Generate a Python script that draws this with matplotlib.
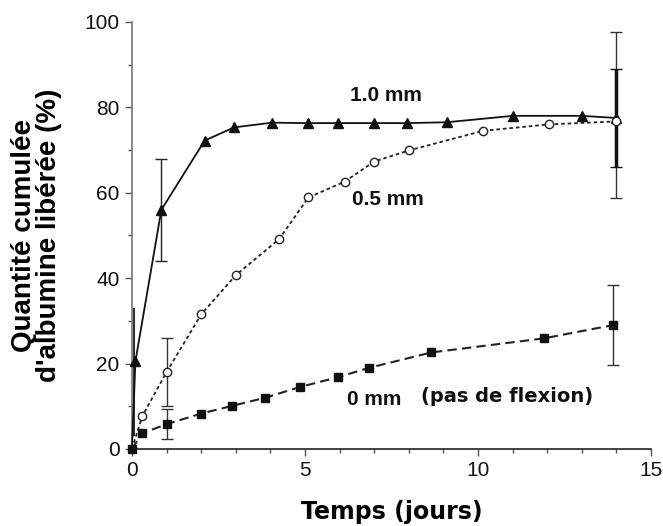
import matplotlib
matplotlib.use('Agg')
import matplotlib.pyplot as plt
from matplotlib.ticker import MultipleLocator

# 1.0 mm (triangles, solid line)
t_10 = [0, 0.1, 0.85, 2.1, 2.95, 4.05, 5.1, 5.95, 7.0, 7.95, 9.1, 11.0, 13.0, 14.0]
y_10 = [0, 20.5, 56, 72.2, 75.3, 76.4, 76.3, 76.3, 76.3, 76.3, 76.5, 78.0, 78.0, 77.5]
e_10_t = [0.05, 0.85, 14.0]
e_10_y = [18, 56, 77.5]
e_10 = [15, 12, 11.5]

# 0.5 mm (open circles, dotted line)
t_05 = [0, 0.3, 1.0, 2.0, 3.0, 4.25, 5.1, 6.15, 7.0, 8.0, 10.15, 12.05, 14.0]
y_05 = [0, 7.7, 18, 31.5, 40.7, 49.1, 58.9, 62.6, 67.3, 69.9, 74.5, 76.0, 76.7]
e_05_t = [1.0, 14.0]
e_05_y = [18, 78.2]
e_05 = [8, 19.5]

# 0 mm (filled squares, dashed line)
t_00 = [0, 0.3, 1.0, 2.0, 2.9, 3.85, 4.85, 5.95, 6.85, 8.65, 11.9, 13.9]
y_00 = [0, 3.7, 5.8, 8.3, 10.1, 12.0, 14.5, 16.8, 19.0, 22.6, 25.9, 29.0]
e_00_t = [1.0, 13.9]
e_00_y = [5.8, 29.0]
e_00 = [3.5, 9.4]

fig = plt.figure(figsize=(6.63, 5.26), dpi=100)
ax = fig.add_axes([0.199, 0.1464, 0.783, 0.812])

ax.plot(t_10, y_10, '-', color='#111', lw=1.3, marker='^', ms=6.5, mfc='#111', mec='#111',
        markevery=list(range(1, len(t_10))), clip_on=False, zorder=4)
ax.plot(t_05, y_05, '--', color='#222', lw=1.3, dashes=(2, 1.6), marker='o', ms=6, mfc='white',
        mec='#222', markevery=list(range(1, len(t_05))), clip_on=False, zorder=4)
ax.plot(t_00, y_00, '--', color='#222', lw=1.5, dashes=(4.5, 2.5), marker='s', ms=6,
        mfc='#111', mec='#111', clip_on=False, zorder=5)

# error bars
ax.errorbar(e_10_t[:1], e_10_y[:1], yerr=e_10[:1], fmt='none', ecolor='#333', elinewidth=1.5,
            capsize=0, clip_on=False, zorder=3)
ax.errorbar(e_10_t[1:2], e_10_y[1:2], yerr=e_10[1:2], fmt='none', ecolor='#222', elinewidth=1,
            capsize=4, capthick=1, clip_on=False, zorder=3)
ax.errorbar(e_10_t[2:], e_10_y[2:], yerr=e_10[2:], fmt='none', ecolor='#111', elinewidth=2.5,
            capsize=4, capthick=1, clip_on=False, zorder=3)
ax.errorbar(e_05_t, e_05_y, yerr=e_05, fmt='none', ecolor='#333', elinewidth=1,
            capsize=4, capthick=1, clip_on=False, zorder=2)
ax.errorbar(e_00_t, e_00_y, yerr=e_00, fmt='none', ecolor='#333', elinewidth=1,
            capsize=4, capthick=1, clip_on=False, zorder=2)

# series labels
lab_font = dict(family='Liberation Sans', fontweight='bold', fontsize=15, color='#111')
ax.text(6.3, 82.7, '1.0 mm', va='center', ha='left', **lab_font)
ax.text(6.36, 58.3, '0.5 mm', va='center', ha='left', **lab_font)
ax.text(6.2, 11.5, '0 mm', va='center', ha='left', **lab_font)
ax.text(8.35, 12.4, '(pas de flexion)', va='center', ha='left', family='DejaVu Sans',
        fontweight='bold', fontsize=14, color='#111')

ax.set_xlim(0, 15)
ax.set_ylim(0, 100)
ax.xaxis.set_major_locator(MultipleLocator(5))
ax.xaxis.set_minor_locator(MultipleLocator(1))
ax.yaxis.set_major_locator(MultipleLocator(20))
ax.yaxis.set_minor_locator(MultipleLocator(10))

for s in ['top', 'right']:
    ax.spines[s].set_visible(False)
ax.spines['left'].set_color('#777')
ax.spines['bottom'].set_color('#222')
ax.spines['left'].set_linewidth(1.2)
ax.spines['bottom'].set_linewidth(1.2)

ax.tick_params(which='major', direction='out', length=5, width=1, color='#555', pad=4)
ax.tick_params(which='minor', direction='out', length=3, width=1, color='#555')
for lbl in ax.get_xticklabels() + ax.get_yticklabels():
    lbl.set_family('Liberation Sans')
    lbl.set_fontsize(15)
    lbl.set_color('#111')

ax.set_xlabel('Temps (jours)', family='DejaVu Sans', fontweight='bold', fontsize=17, labelpad=14)
ax.set_ylabel("Quantité cumulée\nd'albumine libérée (%)", family='Liberation Sans',
              fontweight='bold', fontsize=20, linespacing=0.95, labelpad=16)

fig.savefig('out.png', dpi=100)
